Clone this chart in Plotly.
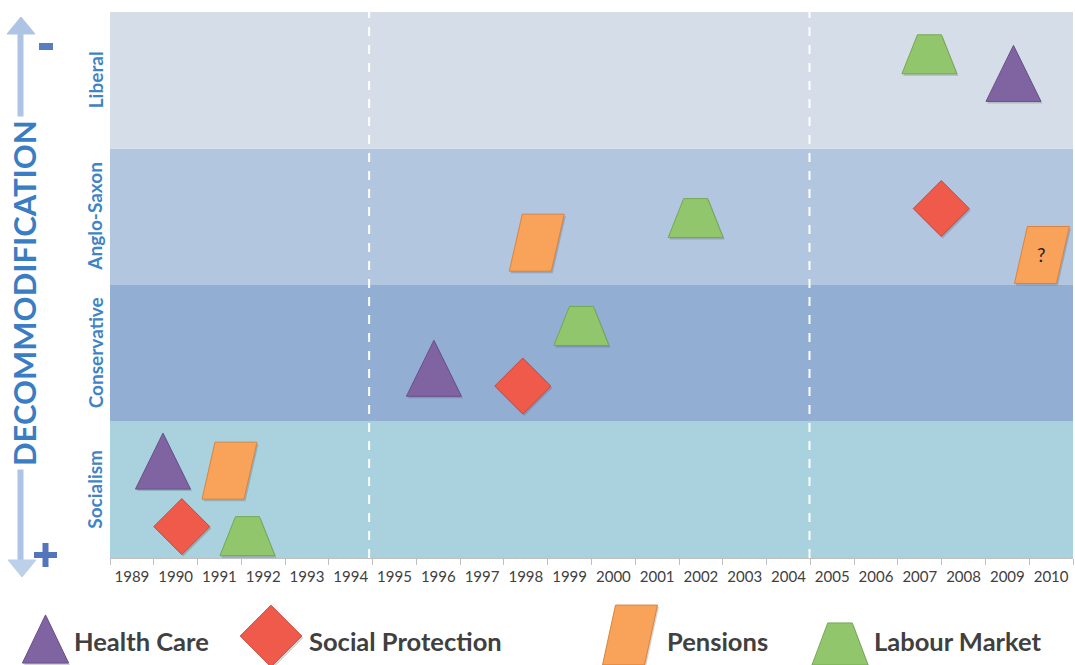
import plotly.graph_objects as go

# ---- data -------------------------------------------------------------
years = list(range(1989, 2011))
regimes = ["Socialism", "Conservative", "Anglo-Saxon", "Liberal"]
band_colors = ["#A9D2DE", "#92AED3", "#B3C6DF", "#D5DDE8"]

health_x = [1989.71, 1995.90, 2009.14]
health_y = [0.71, 1.39, 3.55]

social_x = [1990.14, 1997.93, 2007.49]
social_y = [0.23, 1.26, 2.56]

pension_x = [1991.23, 1998.25, 2009.79]
pension_y = [0.64, 2.31, 2.22]
pension_note = ["", "", "?"]

labour_x = [1991.64, 1999.27, 2001.88, 2007.22]
labour_y = [0.16, 1.70, 2.49, 3.69]

reform_breaks = [1994.42, 2004.48]

# ---- layout geometry (figure pixels) ----------------------------------
W, H = 1075, 665
PLOT_L, PLOT_R, PLOT_T, PLOT_B = 110, 1073, 12, 558
X0, X1 = 1988.5, 2010.5
PX_X = (PLOT_R - PLOT_L) / (X1 - X0)
PX_Y = (PLOT_B - PLOT_T) / 4.0

FONT = "Lato"
TEXT_DARK = "#404040"
LABEL_BLUE = "#3F84C6"

# glyph outlines as pixel offsets from the centre (y up)
GLYPHS = {
    "triangle": [(-27.5, -28), (27.5, -28), (0, 28)],
    "diamond": [(0, 28), (28, 0), (0, -28), (-28, 0)],
    "parallelogram": [(-27.5, -28.5), (14.5, -28.5), (27.5, 28.5), (-14.5, 28.5)],
    "trapezoid": [(-27.5, -19.5), (27.5, -19.5), (12, 19.5), (-12, 19.5)],
}

STYLE = {
    "Health Care": ("triangle", "#8064A2", "#6A4F8C"),
    "Social Protection": ("diamond", "#EF5A4B", "#C9473A"),
    "Pensions": ("parallelogram", "#F8A25A", "#D9843F"),
    "Labour Market": ("trapezoid", "#92C66C", "#74A852"),
}

fig = go.Figure()


def data_outline(kind, cx, cy, dx=0.0, dy=0.0):
    pts = GLYPHS[kind] + [GLYPHS[kind][0]]
    xs = [cx + (px + dx) / PX_X for px, _ in pts]
    ys = [cy + (py + dy) / PX_Y for _, py in pts]
    return xs, ys


def pixel_outline(kind, cx, cy, sx=1.0, sy=1.0, dx=0.0, dy=0.0):
    pts = GLYPHS[kind] + [GLYPHS[kind][0]]
    xs = [cx + px * sx + dx for px, _ in pts]
    ys = [cy - py * sy + dy for _, py in pts]
    return xs, ys


def add_glyph(xs, ys, fill, edge, xaxis="x", yaxis="y"):
    fig.add_trace(go.Scatter(
        x=xs, y=ys, mode="lines", fill="toself", fillcolor=fill,
        line=dict(color=edge, width=1), xaxis=xaxis, yaxis=yaxis,
        hoverinfo="skip", showlegend=False))


def add_series(name, xs, ys):
    kind, fill, edge = STYLE[name]
    for cx, cy in zip(xs, ys):
        sx, sy = data_outline(kind, cx, cy, 1.5, -2.0)
        add_glyph(sx, sy, "rgba(60,60,60,0.22)", "rgba(0,0,0,0)")
        px, py = data_outline(kind, cx, cy)
        add_glyph(px, py, fill, edge)


add_series("Health Care", health_x, health_y)
add_series("Social Protection", social_x, social_y)
add_series("Pensions", pension_x, pension_y)
add_series("Labour Market", labour_x, labour_y)

# ---- regime bands and reform breaks ------------------------------------
shapes = []
for i, col in enumerate(band_colors):
    shapes.append(dict(type="rect", xref="x", yref="y", x0=X0, x1=X1,
                       y0=i, y1=i + 1, fillcolor=col, line=dict(width=0),
                       layer="below"))
for xb in reform_breaks:
    shapes.append(dict(type="line", xref="x", yref="y", x0=xb, x1=xb,
                       y0=0, y1=4, line=dict(color="white", width=2, dash="dash"),
                       layer="below"))

# "-" and "+" signs at the ends of the decommodification arrow
SIGN = "#5275BC"
shapes.append(dict(type="rect", xref="x2", yref="y2", x0=39, x1=53, y0=43, y1=50,
                   fillcolor="#5A7DBF", line=dict(width=0)))
shapes.append(dict(type="rect", xref="x2", yref="y2", x0=34, x1=57, y0=552, y1=558,
                   fillcolor=SIGN, line=dict(width=0)))
shapes.append(dict(type="rect", xref="x2", yref="y2", x0=42.5, x1=48.5, y0=543, y1=567,
                   fillcolor=SIGN, line=dict(width=0)))

annotations = []
for p_x, p_y, note in zip(pension_x, pension_y, pension_note):
    if note:
        annotations.append(dict(x=p_x, y=p_y, xref="x", yref="y", text=note,
                                showarrow=False,
                                font=dict(family=FONT, size=19, color="#222222")))

# regime labels along the left edge
for i, name in enumerate(regimes):
    cy = PLOT_B - (i + 0.5) * PX_Y
    annotations.append(dict(x=95, y=cy, xref="x2", yref="y2", text=f"<b>{name}</b>",
                            textangle=-90, showarrow=False,
                            font=dict(family=FONT, size=19, color=LABEL_BLUE)))

# ---- decommodification arrow ------------------------------------------
ARROW = "#AEC4E4"
fig.add_trace(go.Scatter(x=[20.5, 20.5], y=[32, 562], mode="lines",
                         line=dict(color=ARROW, width=6), xaxis="x2", yaxis="y2",
                         hoverinfo="skip", showlegend=False))
fig.add_trace(go.Scatter(x=[7, 35, 21, 7], y=[34, 34, 17, 34], mode="lines",
                         fill="toself", fillcolor=ARROW, line=dict(color=ARROW, width=1),
                         xaxis="x2", yaxis="y2", hoverinfo="skip", showlegend=False))
fig.add_trace(go.Scatter(x=[8, 36, 22, 8], y=[560, 560, 577, 560], mode="lines",
                         fill="toself", fillcolor="#BCD0EA", line=dict(color="#BCD0EA", width=1),
                         xaxis="x2", yaxis="y2", hoverinfo="skip", showlegend=False))

annotations.append(dict(x=24, y=293, xref="x2", yref="y2", text="<b>DECOMMODIFICATION</b>",
                        textangle=-90, showarrow=False, bgcolor="white", borderpad=3,
                        font=dict(family=FONT, size=31, color="#3A7DC2")))

# ---- legend row --------------------------------------------------------
legend_items = [
    ("Health Care", 45.5, 639, 0.84, 0.86, 72),
    ("Social Protection", 271, 636, 1.1, 1.1, 307),
    ("Pensions", 630, 635, 1.0, 1.05, 665),
    ("Labour Market", 840, 644, 1.02, 1.08, 872),
]
for name, cx, cy, sx, sy, tx in legend_items:
    kind, fill, edge = STYLE[name]
    xs, ys = pixel_outline(kind, cx, cy, sx, sy, 1.5, 2.0)
    add_glyph(xs, ys, "rgba(60,60,60,0.22)", "rgba(0,0,0,0)", "x2", "y2")
    xs, ys = pixel_outline(kind, cx, cy, sx, sy)
    add_glyph(xs, ys, fill, edge, "x2", "y2")
    annotations.append(dict(x=tx, y=641, xref="x2", yref="y2", text=f"<b>{name}</b>",
                            xanchor="left", showarrow=False,
                            font=dict(family=FONT, size=25.5, color=TEXT_DARK)))

fig.update_layout(
    width=W, height=H, margin=dict(l=0, r=0, t=0, b=0),
    paper_bgcolor="white", plot_bgcolor="rgba(0,0,0,0)",
    shapes=shapes, annotations=annotations, showlegend=False,
    xaxis=dict(domain=[PLOT_L / W, PLOT_R / W], range=[X0, X1],
               tickvals=years, ticktext=[str(y) for y in years], ticks="",
               showline=True, linecolor="#BFBFBF", linewidth=1,
               showgrid=False, zeroline=False, ticklabelstandoff=5,
               tickfont=dict(family=FONT, size=15, color=TEXT_DARK),
               minor=dict(tickvals=[y - 0.5 for y in years] + [X1], ticks="outside",
                          ticklen=6, tickcolor="#BFBFBF", showgrid=False),
               anchor="y", fixedrange=True),
    yaxis=dict(domain=[(H - PLOT_B) / H, (H - PLOT_T) / H], range=[0, 4],
               visible=False, anchor="x", fixedrange=True),
    xaxis2=dict(domain=[0, 1], range=[0, W], visible=False, anchor="y2", fixedrange=True),
    yaxis2=dict(domain=[0, 1], range=[H, 0], visible=False, anchor="x2", fixedrange=True),
)

fig.write_html("out.html")
